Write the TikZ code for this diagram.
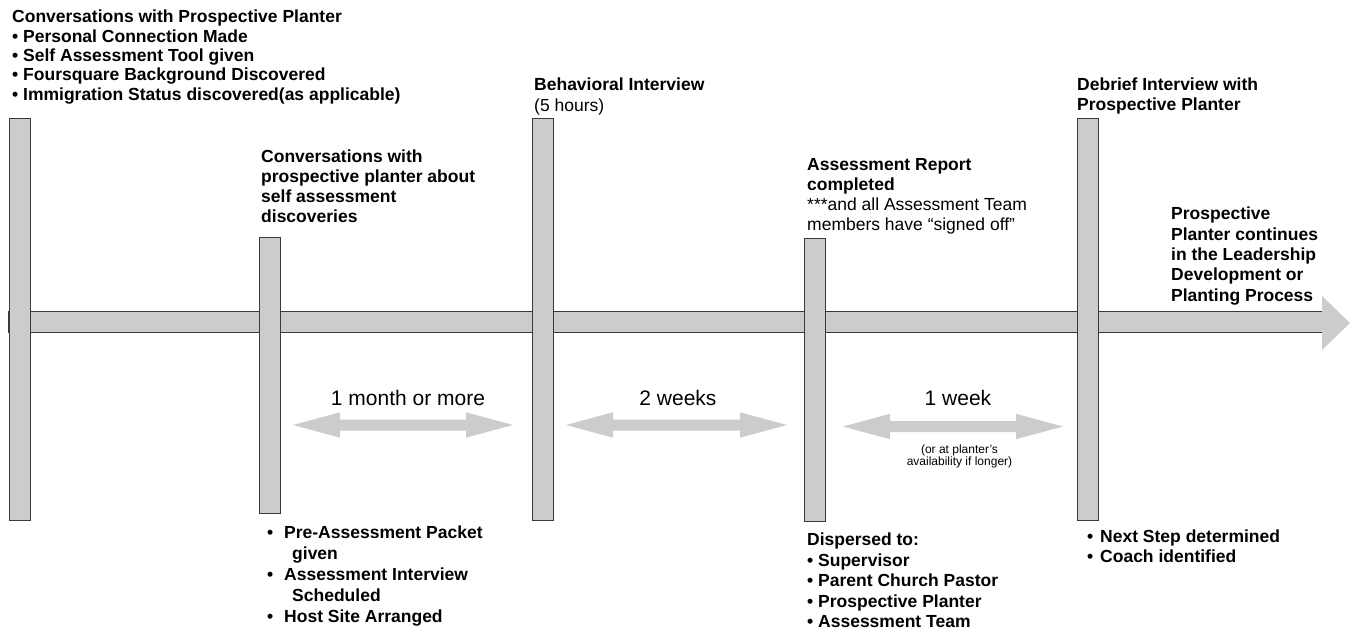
\documentclass[tikz,border=0pt]{standalone}
\usepackage{fontspec}
\setmainfont{Liberation Sans}
\definecolor{barfill}{HTML}{CCCCCC}
\definecolor{baredge}{HTML}{3A3A3A}
\begin{document}
\begin{tikzpicture}[x=1pt,y=-1pt,
  bar/.style={fill=barfill,draw=baredge,line width=1pt},
  gapfill/.style={fill=barfill},
  txt/.style={inner sep=0pt,anchor=north west,align=left,
    font=\fontsize{17.5}{20}\selectfont\bfseries},
  gaplabel/.style={inner sep=0pt,anchor=base,font=\fontsize{21}{24}\selectfont},
  note/.style={inner sep=0pt,anchor=north,align=center,font=\fontsize{12}{11.5}\selectfont}]
\useasboundingbox (0,0) rectangle (1353,635);

% main timeline shaft and head
\fill[barfill] (8,311) rectangle (1323,332);
\draw[baredge,line width=1pt] (1323,311) -- (8,311) -- (8,332) -- (1323,332);
\fill[barfill] (1322,296) -- (1350,323) -- (1322,350) -- cycle;

% milestone bars
\foreach \l/\t/\b in {9/118/520, 259/237/513, 532/118/520, 804/238/521, 1077/118/520}
  \draw[bar] (\l,\t) rectangle (\l+21,\b);

% interval arrows
\foreach \L/\R/\c in {293/513/425, 566/787/425, 843/1063/426.5}
  \fill[gapfill] (\L,\c) -- (\L+47,\c-12.7) -- (\L+47,\c-5.5) -- (\R-47,\c-5.5)
    -- (\R-47,\c-12.7) -- (\R,\c) -- (\R-47,\c+12.7) -- (\R-47,\c+5.5)
    -- (\L+47,\c+5.5) -- (\L+47,\c+12.7) -- cycle;

% interval labels
\node[gaplabel] (gap1) at (408,405) {1 month or more};
\node[gaplabel] (gap2) at (678,405) {2 weeks};
\node[gaplabel] (gap3) at (958,405) {1 week};
\node[note] (gap3note) at (959.5,445) {(or at planter’s\\availability if longer)};

% texts above the bars
\node[txt,font=\fontsize{17.5}{19.3}\selectfont\bfseries] (start) at (12,10)
  {Conversations with Prospective Planter\\
   • Personal Connection Made\\
   • Self Assessment Tool given\\
   • Foursquare Background Discovered\\
   • Immigration Status discovered(as applicable)};
\node[txt] (selfconv) at (261,150)
  {Conversations with\\prospective planter about\\self assessment\\discoveries};
\node[txt,font=\fontsize{17.5}{21}\selectfont\bfseries] (interview) at (534,78)
  {Behavioral Interview\\{\mdseries (5 hours)}};
\node[txt] (report) at (807,158)
  {Assessment Report\\completed\\
   {\mdseries ***and all Assessment Team}\\
   {\mdseries members have “signed off”}};
\node[txt] (debrief) at (1077,78)
  {Debrief Interview with\\Prospective Planter};
\node[txt,font=\fontsize{17.5}{20.3}\selectfont\bfseries] (continues) at (1171,207)
  {Prospective\\Planter continues\\in the Leadership\\Development or\\Planting Process};

% texts below the bars
\node[txt,font=\fontsize{17.5}{21}\selectfont\bfseries] (packet) at (267,526)
  {\makebox[17pt][l]{•}Pre-Assessment Packet\\
   \hspace*{25pt}given\\
   \makebox[17pt][l]{•}Assessment Interview\\
   \hspace*{25pt}Scheduled\\
   \makebox[17pt][l]{•}Host Site Arranged};
\node[txt,font=\fontsize{17.5}{20.5}\selectfont\bfseries] (dispersed) at (807,533)
  {Dispersed to:\\
   • Supervisor\\
   • Parent Church Pastor\\
   • Prospective Planter\\
   • Assessment Team};
\node[txt] (nextstep) at (1087,530)
  {\makebox[13pt][l]{•}Next Step determined\\
   \makebox[13pt][l]{•}Coach identified};
\end{tikzpicture}
\end{document}
